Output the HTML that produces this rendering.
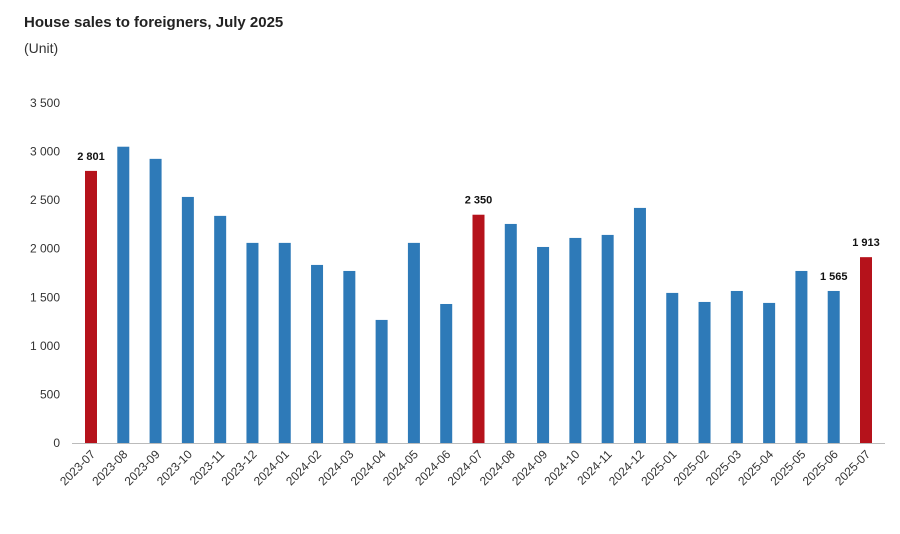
<!DOCTYPE html>
<html><head><meta charset="utf-8"><style>
body{margin:0;background:#fff;font-family:"Liberation Sans",sans-serif}
#c{position:relative;width:900px;height:529px}
</style></head><body>
<div id="c">
<svg id="s" width="900" height="529">
<text x="24" y="27" font-size="15" font-weight="bold" fill="#222">House sales to foreigners, July 2025</text>
<text x="24" y="53" font-size="14" fill="#333">(Unit)</text>
</svg></div>
<script>
const categories=["2023-07","2023-08","2023-09","2023-10","2023-11","2023-12","2024-01","2024-02","2024-03","2024-04","2024-05","2024-06","2024-07","2024-08","2024-09","2024-10","2024-11","2024-12","2025-01","2025-02","2025-03","2025-04","2025-05","2025-06","2025-07"];
const values=[2801,3050,2925,2533,2338,2060,2060,1833,1771,1267,2060,1431,2350,2255,2018,2111,2142,2420,1545,1452,1565,1442,1771,1565,1913];
const highlighted=["2023-07","2024-07","2025-07"];
const labeled=["2023-07","2024-07","2025-06","2025-07"];
const yTicks=[0,500,1000,1500,2000,2500,3000,3500];
const yTickLabels=["0","500","1 000","1 500","2 000","2 500","3 000","3 500"];
const NS="http://www.w3.org/2000/svg",svg=document.getElementById('s');
const y0=443,yTop=103,yMax=3500;
const y=v=>y0-(v/yMax)*(y0-yTop);
const x0=91,step=(866-91)/(categories.length-1);
const x=i=>x0+i*step;
function mk(t,a){const e=document.createElementNS(NS,t);for(const k in a)e.setAttribute(k,a[k]);svg.appendChild(e);return e;}
yTicks.forEach((t,i)=>{const e=mk('text',{x:60,y:y(t)+4,'text-anchor':'end','font-size':12,fill:'#333'});e.textContent=yTickLabels[i];

});
const ax=mk('line',{x1:72,x2:885,y1:y0+0.5,y2:y0+0.5,stroke:'#bbb'});


categories.forEach((c,i)=>{const hi=highlighted.includes(c);
const r=mk('rect',{x:x(i)-6,y:y(values[i]),width:12,height:y0-y(values[i]),fill:hi?'#b5121b':'#2e7ab8'});


if(labeled.includes(c)){const t=mk('text',{x:x(i),y:y(values[i])-11,'text-anchor':'middle','font-size':11,'font-weight':'bold',fill:'#111'});t.textContent=values[i].toLocaleString('en').replace(',',' ');

}
const l=mk('text',{x:x(i)+5,y:y0+12,'text-anchor':'end','font-size':12,fill:'#333',transform:`rotate(-45 ${x(i)+5} ${y0+12})`});l.textContent=c;

});
</script></body></html>
